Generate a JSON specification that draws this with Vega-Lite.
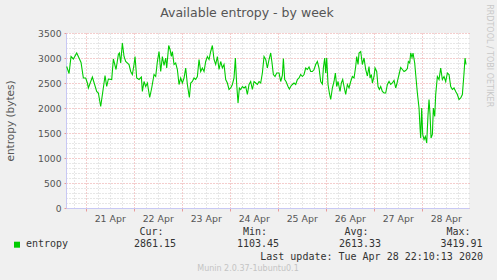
{
  "$schema": "https://vega.github.io/schema/vega-lite/v6.json",
  "width": 403,
  "height": 175,
  "autosize": {"type": "none"},
  "padding": {"left": 66, "top": 33, "right": 28, "bottom": 72},
  "background": "#f0f0f0",
  "config": {"view": {"fill": "#ffffff", "stroke": null}, "font": "DejaVu Sans"},
  "resolve": {"axis": {"x": "independent", "y": "independent"}},
  "datasets": {
    "entropy": [
      {"t":"2020-04-20T14:30:00Z","v":2830},{"t":"2020-04-20T15:40:00Z","v":2690},{"t":"2020-04-20T16:40:00Z","v":3030},{"t":"2020-04-20T17:50:00Z","v":2980},{"t":"2020-04-20T19:30:00Z","v":3100},{"t":"2020-04-20T20:40:00Z","v":3000},{"t":"2020-04-20T21:40:00Z","v":2910},{"t":"2020-04-20T22:50:00Z","v":2600},
      {"t":"2020-04-21T00:00:00Z","v":2600},{"t":"2020-04-21T00:50:00Z","v":2500},{"t":"2020-04-21T01:20:00Z","v":2400},{"t":"2020-04-21T03:20:00Z","v":2620},{"t":"2020-04-21T05:30:00Z","v":2330},{"t":"2020-04-21T06:20:00Z","v":2300},{"t":"2020-04-21T07:30:00Z","v":2030},{"t":"2020-04-21T09:10:00Z","v":2500},{"t":"2020-04-21T09:40:00Z","v":2650},{"t":"2020-04-21T10:30:00Z","v":2430},{"t":"2020-04-21T11:20:00Z","v":2580},{"t":"2020-04-21T13:00:00Z","v":2570},{"t":"2020-04-21T13:50:00Z","v":2980},{"t":"2020-04-21T15:10:00Z","v":2770},{"t":"2020-04-21T16:20:00Z","v":3070},{"t":"2020-04-21T16:50:00Z","v":3100},{"t":"2020-04-21T17:30:00Z","v":2900},{"t":"2020-04-21T18:20:00Z","v":3300},{"t":"2020-04-21T19:10:00Z","v":3030},{"t":"2020-04-21T20:00:00Z","v":2930},{"t":"2020-04-21T21:40:00Z","v":2870},{"t":"2020-04-21T22:30:00Z","v":2730},{"t":"2020-04-21T23:20:00Z","v":2670},
      {"t":"2020-04-22T00:10:00Z","v":2870},{"t":"2020-04-22T00:40:00Z","v":3030},{"t":"2020-04-22T01:30:00Z","v":2600},{"t":"2020-04-22T02:40:00Z","v":2570},{"t":"2020-04-22T03:50:00Z","v":2620},{"t":"2020-04-22T04:20:00Z","v":2330},{"t":"2020-04-22T05:10:00Z","v":2530},{"t":"2020-04-22T06:00:00Z","v":2430},{"t":"2020-04-22T06:50:00Z","v":2500},{"t":"2020-04-22T08:00:00Z","v":2210},{"t":"2020-04-22T09:00:00Z","v":2400},{"t":"2020-04-22T10:10:00Z","v":2670},{"t":"2020-04-22T11:00:00Z","v":2630},{"t":"2020-04-22T11:50:00Z","v":2930},{"t":"2020-04-22T12:40:00Z","v":3130},{"t":"2020-04-22T13:30:00Z","v":2730},{"t":"2020-04-22T14:20:00Z","v":3030},{"t":"2020-04-22T15:10:00Z","v":2850},{"t":"2020-04-22T16:00:00Z","v":3000},{"t":"2020-04-22T16:30:00Z","v":2800},{"t":"2020-04-22T17:30:00Z","v":3250},{"t":"2020-04-22T18:10:00Z","v":3170},{"t":"2020-04-22T18:50:00Z","v":3030},{"t":"2020-04-22T19:20:00Z","v":3130},{"t":"2020-04-22T20:10:00Z","v":2870},{"t":"2020-04-22T21:00:00Z","v":2900},{"t":"2020-04-22T21:50:00Z","v":2770},{"t":"2020-04-22T22:40:00Z","v":2470},{"t":"2020-04-22T23:30:00Z","v":2600},
      {"t":"2020-04-23T00:20:00Z","v":2500},{"t":"2020-04-23T01:10:00Z","v":2600},{"t":"2020-04-23T02:00:00Z","v":2800},{"t":"2020-04-23T02:50:00Z","v":2470},{"t":"2020-04-23T03:50:00Z","v":2210},{"t":"2020-04-23T04:30:00Z","v":2500},{"t":"2020-04-23T05:20:00Z","v":2530},{"t":"2020-04-23T06:10:00Z","v":2600},{"t":"2020-04-23T07:00:00Z","v":2570},{"t":"2020-04-23T07:50:00Z","v":2630},{"t":"2020-04-23T08:40:00Z","v":2970},{"t":"2020-04-23T09:30:00Z","v":2730},{"t":"2020-04-23T10:20:00Z","v":2800},{"t":"2020-04-23T11:10:00Z","v":2730},{"t":"2020-04-23T12:00:00Z","v":2930},{"t":"2020-04-23T12:50:00Z","v":3030},{"t":"2020-04-23T13:40:00Z","v":2970},{"t":"2020-04-23T14:30:00Z","v":3130},{"t":"2020-04-23T15:20:00Z","v":3250},{"t":"2020-04-23T16:10:00Z","v":2970},{"t":"2020-04-23T17:00:00Z","v":2870},{"t":"2020-04-23T17:50:00Z","v":3030},{"t":"2020-04-23T18:40:00Z","v":2770},{"t":"2020-04-23T19:30:00Z","v":2930},{"t":"2020-04-23T20:20:00Z","v":2800},{"t":"2020-04-23T21:10:00Z","v":2870},{"t":"2020-04-23T22:00:00Z","v":2570},{"t":"2020-04-23T22:50:00Z","v":2500},{"t":"2020-04-23T23:40:00Z","v":2370},
      {"t":"2020-04-24T00:30:00Z","v":2400},{"t":"2020-04-24T01:20:00Z","v":2470},{"t":"2020-04-24T02:10:00Z","v":2600},{"t":"2020-04-24T02:50:00Z","v":3000},{"t":"2020-04-24T03:30:00Z","v":2470},{"t":"2020-04-24T04:10:00Z","v":2100},{"t":"2020-04-24T04:50:00Z","v":2400},{"t":"2020-04-24T05:30:00Z","v":2370},{"t":"2020-04-24T06:20:00Z","v":2430},{"t":"2020-04-24T07:10:00Z","v":2400},{"t":"2020-04-24T08:00:00Z","v":2430},{"t":"2020-04-24T08:50:00Z","v":2270},{"t":"2020-04-24T09:40:00Z","v":2470},{"t":"2020-04-24T10:30:00Z","v":2530},{"t":"2020-04-24T11:20:00Z","v":2370},{"t":"2020-04-24T12:10:00Z","v":2530},{"t":"2020-04-24T13:00:00Z","v":2500},{"t":"2020-04-24T13:50:00Z","v":2470},{"t":"2020-04-24T14:40:00Z","v":2530},{"t":"2020-04-24T15:30:00Z","v":2500},{"t":"2020-04-24T16:20:00Z","v":2700},{"t":"2020-04-24T17:10:00Z","v":3030},{"t":"2020-04-24T18:00:00Z","v":2970},{"t":"2020-04-24T18:50:00Z","v":2800},{"t":"2020-04-24T19:40:00Z","v":2970},{"t":"2020-04-24T20:30:00Z","v":3100},{"t":"2020-04-24T21:10:00Z","v":2900},{"t":"2020-04-24T21:50:00Z","v":2670},{"t":"2020-04-24T22:40:00Z","v":2630},{"t":"2020-04-24T23:30:00Z","v":2700},
      {"t":"2020-04-25T00:40:00Z","v":2700},{"t":"2020-04-25T01:30:00Z","v":2530},{"t":"2020-04-25T02:20:00Z","v":2650},{"t":"2020-04-25T02:50:00Z","v":2990},{"t":"2020-04-25T03:30:00Z","v":2570},{"t":"2020-04-25T04:10:00Z","v":2530},{"t":"2020-04-25T05:10:00Z","v":2430},{"t":"2020-04-25T05:50:00Z","v":2380},{"t":"2020-04-25T06:30:00Z","v":2430},{"t":"2020-04-25T07:20:00Z","v":2470},{"t":"2020-04-25T08:10:00Z","v":2500},{"t":"2020-04-25T09:00:00Z","v":2470},{"t":"2020-04-25T09:50:00Z","v":2570},{"t":"2020-04-25T10:40:00Z","v":2600},{"t":"2020-04-25T11:30:00Z","v":2670},{"t":"2020-04-25T12:20:00Z","v":2630},{"t":"2020-04-25T13:10:00Z","v":2670},{"t":"2020-04-25T14:00:00Z","v":2800},{"t":"2020-04-25T14:50:00Z","v":2770},{"t":"2020-04-25T15:40:00Z","v":2820},{"t":"2020-04-25T16:30:00Z","v":2730},{"t":"2020-04-25T17:20:00Z","v":2730},{"t":"2020-04-25T18:10:00Z","v":2770},{"t":"2020-04-25T19:00:00Z","v":2870},{"t":"2020-04-25T19:50:00Z","v":2930},{"t":"2020-04-25T20:40:00Z","v":2800},{"t":"2020-04-25T21:30:00Z","v":2530},{"t":"2020-04-25T22:20:00Z","v":2480},{"t":"2020-04-25T22:50:00Z","v":2800},{"t":"2020-04-25T23:30:00Z","v":3000},
      {"t":"2020-04-26T00:00:00Z","v":2700},{"t":"2020-04-26T00:30:00Z","v":3000},{"t":"2020-04-26T01:10:00Z","v":2470},{"t":"2020-04-26T01:50:00Z","v":2300},{"t":"2020-04-26T02:30:00Z","v":2170},{"t":"2020-04-26T03:20:00Z","v":2400},{"t":"2020-04-26T04:10:00Z","v":2530},{"t":"2020-04-26T04:50:00Z","v":2700},{"t":"2020-04-26T05:30:00Z","v":2430},{"t":"2020-04-26T06:10:00Z","v":2530},{"t":"2020-04-26T07:10:00Z","v":2330},{"t":"2020-04-26T07:50:00Z","v":2500},{"t":"2020-04-26T08:30:00Z","v":2570},{"t":"2020-04-26T09:10:00Z","v":2430},{"t":"2020-04-26T10:00:00Z","v":2270},{"t":"2020-04-26T10:50:00Z","v":2470},{"t":"2020-04-26T11:40:00Z","v":2400},{"t":"2020-04-26T12:30:00Z","v":2530},{"t":"2020-04-26T13:20:00Z","v":2630},{"t":"2020-04-26T14:10:00Z","v":2600},{"t":"2020-04-26T15:00:00Z","v":2830},{"t":"2020-04-26T15:30:00Z","v":3030},{"t":"2020-04-26T16:10:00Z","v":2870},{"t":"2020-04-26T16:40:00Z","v":3100},{"t":"2020-04-26T17:30:00Z","v":3130},{"t":"2020-04-26T18:20:00Z","v":2870},{"t":"2020-04-26T19:10:00Z","v":3000},{"t":"2020-04-26T20:00:00Z","v":2770},{"t":"2020-04-26T20:50:00Z","v":2640},{"t":"2020-04-26T21:40:00Z","v":2830},{"t":"2020-04-26T22:10:00Z","v":2600},{"t":"2020-04-26T22:50:00Z","v":2670},{"t":"2020-04-26T23:20:00Z","v":2500},
      {"t":"2020-04-27T00:10:00Z","v":2630},{"t":"2020-04-27T00:40:00Z","v":2800},{"t":"2020-04-27T01:30:00Z","v":2730},{"t":"2020-04-27T02:10:00Z","v":2430},{"t":"2020-04-27T02:50:00Z","v":2370},{"t":"2020-04-27T03:30:00Z","v":2430},{"t":"2020-04-27T04:20:00Z","v":2330},{"t":"2020-04-27T05:10:00Z","v":2300},{"t":"2020-04-27T06:00:00Z","v":2300},{"t":"2020-04-27T06:50:00Z","v":2470},{"t":"2020-04-27T07:40:00Z","v":2530},{"t":"2020-04-27T08:30:00Z","v":2470},{"t":"2020-04-27T09:20:00Z","v":2500},{"t":"2020-04-27T10:10:00Z","v":2550},{"t":"2020-04-27T11:00:00Z","v":2400},{"t":"2020-04-27T11:30:00Z","v":2470},{"t":"2020-04-27T11:50:00Z","v":2530},{"t":"2020-04-27T12:40:00Z","v":2670},{"t":"2020-04-27T13:30:00Z","v":2810},{"t":"2020-04-27T14:20:00Z","v":2770},{"t":"2020-04-27T15:10:00Z","v":2730},{"t":"2020-04-27T16:00:00Z","v":2750},{"t":"2020-04-27T16:50:00Z","v":2790},{"t":"2020-04-27T17:20:00Z","v":2930},{"t":"2020-04-27T18:00:00Z","v":2900},{"t":"2020-04-27T18:30:00Z","v":3100},{"t":"2020-04-27T19:10:00Z","v":3010},{"t":"2020-04-27T19:40:00Z","v":3100},{"t":"2020-04-27T20:30:00Z","v":2900},{"t":"2020-04-27T21:00:00Z","v":2670},{"t":"2020-04-27T21:50:00Z","v":2300},{"t":"2020-04-27T22:40:00Z","v":2000},{"t":"2020-04-27T23:10:00Z","v":1600},{"t":"2020-04-27T23:30:00Z","v":1400},
      {"t":"2020-04-28T00:00:00Z","v":2000},{"t":"2020-04-28T00:30:00Z","v":1470},{"t":"2020-04-28T01:10:00Z","v":1370},{"t":"2020-04-28T01:50:00Z","v":1430},{"t":"2020-04-28T02:30:00Z","v":1300},{"t":"2020-04-28T03:10:00Z","v":1870},{"t":"2020-04-28T03:40:00Z","v":2170},{"t":"2020-04-28T04:10:00Z","v":1870},{"t":"2020-04-28T04:40:00Z","v":1400},{"t":"2020-04-28T05:20:00Z","v":1470},{"t":"2020-04-28T05:50:00Z","v":2000},{"t":"2020-04-28T06:30:00Z","v":1830},{"t":"2020-04-28T07:00:00Z","v":2270},{"t":"2020-04-28T07:50:00Z","v":2630},{"t":"2020-04-28T08:40:00Z","v":2570},{"t":"2020-04-28T09:30:00Z","v":2800},{"t":"2020-04-28T10:20:00Z","v":2570},{"t":"2020-04-28T11:10:00Z","v":2630},{"t":"2020-04-28T12:00:00Z","v":2530},{"t":"2020-04-28T12:50:00Z","v":2700},{"t":"2020-04-28T13:40:00Z","v":2670},{"t":"2020-04-28T14:30:00Z","v":2430},{"t":"2020-04-28T15:20:00Z","v":2370},{"t":"2020-04-28T16:10:00Z","v":2400},{"t":"2020-04-28T17:00:00Z","v":2330},{"t":"2020-04-28T17:50:00Z","v":2270},{"t":"2020-04-28T18:40:00Z","v":2170},{"t":"2020-04-28T19:30:00Z","v":2200},{"t":"2020-04-28T20:20:00Z","v":2270},{"t":"2020-04-28T21:10:00Z","v":2700},{"t":"2020-04-28T21:40:00Z","v":3000},{"t":"2020-04-28T22:10:00Z","v":2870}
    ]
  },
  "layer": [
    {
      "data": {"name": "entropy"},
      "mark": {"type": "line", "color": "#00cc00", "strokeWidth": 1.1},
      "encoding": {
        "x": {
          "field": "t", "type": "temporal",
          "scale": {"type": "utc", "domain": [{"year":2020,"month":4,"date":20,"hours":14,"minutes":9,"utc":true},{"year":2020,"month":4,"date":28,"hours":23,"minutes":39,"utc":true}]},
          "axis": {
            "title": null,
            "values": [1587405600000,1587427200000,1587448800000,1587470400000,1587492000000,1587513600000,1587535200000,1587556800000,1587578400000,1587600000000,1587621600000,1587643200000,1587664800000,1587686400000,1587708000000,1587729600000,1587751200000,1587772800000,1587794400000,1587816000000,1587837600000,1587859200000,1587880800000,1587902400000,1587924000000,1587945600000,1587967200000,1587988800000,1588010400000,1588032000000,1588053600000,1588075200000,1588096800000],
            "labelExpr": "datum.value % 86400000 == 43200000 ? utcFormat(datum.value, '%d %b') : ''",
            "labelOverlap": false, "labelFlush": false,
            "labelFont": "DejaVu Sans", "labelFontSize": 9.4, "labelColor": "#555555", "labelPadding": 3,
            "grid": true, "gridDash": [1, 2], "gridWidth": 1,
            "gridColor": {"condition": {"test": "datum.value % 86400000 == 0", "value": "#e89a9a"}, "value": "#cfcfcf"},
            "tickSize": 3,
            "tickColor": {"condition": {"test": "datum.value % 86400000 == 0", "value": "#e89a9a"}, "value": "transparent"},
            "domainColor": "#c8c8f4"
          }
        },
        "y": {
          "field": "v", "type": "quantitative",
          "scale": {"domain": [0, 3500], "nice": false},
          "axis": {
            "title": "entropy (bytes)", "titleFont": "DejaVu Sans", "titleFontSize": 10.5, "titleFontWeight": "normal", "titleColor": "#555555", "titlePadding": 22,
            "values": [0,100,200,300,400,500,600,700,800,900,1000,1100,1200,1300,1400,1500,1600,1700,1800,1900,2000,2100,2200,2300,2400,2500,2600,2700,2800,2900,3000,3100,3200,3300,3400,3500],
            "format": "d",
            "labelExpr": "datum.value % 500 == 0 ? datum.label : ''",
            "labelFont": "DejaVu Sans", "labelFontSize": 9.2, "labelColor": "#555555", "labelPadding": 3,
            "grid": true, "gridDash": [1, 2], "gridWidth": 1,
            "gridColor": {"condition": {"test": "datum.value % 500 == 0", "value": "#e89a9a"}, "value": "#cfcfcf"},
            "tickSize": 2,
            "tickColor": {"condition": {"test": "datum.value % 500 == 0", "value": "#e89a9a"}, "value": "transparent"},
            "domainColor": "#c8c8f4"
          }
        }
      }
    },
    {
      "data": {"values": [{"s": "Available entropy - by week"}]},
      "mark": {"type": "text", "font": "DejaVu Sans", "fontSize": 12.5, "color": "#555555", "align": "center", "baseline": "middle"},
      "encoding": {"text": {"field": "s"}, "x": {"datum": 1587717540000, "type": "temporal", "axis": null}, "y": {"datum": 3906, "type": "quantitative", "axis": null}}
    },
    {
      "data": {"values": [{"s": "RRDTOOL / TOBI OETIKER"}]},
      "mark": {"type": "text", "font": "DejaVu Sans", "fontSize": 8, "color": "#c8c8c8", "align": "center", "baseline": "middle", "angle": 90},
      "encoding": {"text": {"field": "s"}, "x": {"datum": 1588153140000, "type": "temporal", "axis": null}, "y": {"datum": 3046, "type": "quantitative", "axis": null}}
    },
    {
      "data": {"values": [{"s": "entropy"}]},
      "mark": {"type": "square", "filled": true, "size": 36, "color": "#00cc00", "opacity": 1},
      "encoding": {"x": {"datum": 1587303540000, "type": "temporal", "axis": null}, "y": {"datum": -734, "type": "quantitative", "axis": null}}
    },
    {
      "data": {"values": [{"s": "entropy"}]},
      "mark": {"type": "text", "font": "DejaVu Sans Mono", "fontSize": 10, "color": "#333333", "align": "left", "baseline": "middle"},
      "encoding": {"text": {"field": "s"}, "x": {"datum": 1587319740000, "type": "temporal", "axis": null}, "y": {"datum": -720, "type": "quantitative", "axis": null}}
    },
    {
      "data": {"values": [{"s": "Cur:"}]},
      "mark": {"type": "text", "font": "DejaVu Sans Mono", "fontSize": 10, "color": "#333333", "align": "center", "baseline": "middle"},
      "encoding": {"text": {"field": "s"}, "x": {"datum": 1587545640000, "type": "temporal", "axis": null}, "y": {"datum": -474, "type": "quantitative", "axis": null}}
    },
    {
      "data": {"values": [{"s": "2861.15"}]},
      "mark": {"type": "text", "font": "DejaVu Sans Mono", "fontSize": 10, "color": "#333333", "align": "center", "baseline": "middle"},
      "encoding": {"text": {"field": "s"}, "x": {"datum": 1587551940000, "type": "temporal", "axis": null}, "y": {"datum": -720, "type": "quantitative", "axis": null}}
    },
    {
      "data": {"values": [{"s": "Min:"}]},
      "mark": {"type": "text", "font": "DejaVu Sans Mono", "fontSize": 10, "color": "#333333", "align": "center", "baseline": "middle"},
      "encoding": {"text": {"field": "s"}, "x": {"datum": 1587731940000, "type": "temporal", "axis": null}, "y": {"datum": -474, "type": "quantitative", "axis": null}}
    },
    {
      "data": {"values": [{"s": "1103.45"}]},
      "mark": {"type": "text", "font": "DejaVu Sans Mono", "fontSize": 10, "color": "#333333", "align": "center", "baseline": "middle"},
      "encoding": {"text": {"field": "s"}, "x": {"datum": 1587737340000, "type": "temporal", "axis": null}, "y": {"datum": -720, "type": "quantitative", "axis": null}}
    },
    {
      "data": {"values": [{"s": "Avg:"}]},
      "mark": {"type": "text", "font": "DejaVu Sans Mono", "fontSize": 10, "color": "#333333", "align": "center", "baseline": "middle"},
      "encoding": {"text": {"field": "s"}, "x": {"datum": 1587914640000, "type": "temporal", "axis": null}, "y": {"datum": -474, "type": "quantitative", "axis": null}}
    },
    {
      "data": {"values": [{"s": "2613.33"}]},
      "mark": {"type": "text", "font": "DejaVu Sans Mono", "fontSize": 10, "color": "#333333", "align": "center", "baseline": "middle"},
      "encoding": {"text": {"field": "s"}, "x": {"datum": 1587920940000, "type": "temporal", "axis": null}, "y": {"datum": -720, "type": "quantitative", "axis": null}}
    },
    {
      "data": {"values": [{"s": "Max:"}]},
      "mark": {"type": "text", "font": "DejaVu Sans Mono", "fontSize": 10, "color": "#333333", "align": "center", "baseline": "middle"},
      "encoding": {"text": {"field": "s"}, "x": {"datum": 1588098240000, "type": "temporal", "axis": null}, "y": {"datum": -474, "type": "quantitative", "axis": null}}
    },
    {
      "data": {"values": [{"s": "3419.91"}]},
      "mark": {"type": "text", "font": "DejaVu Sans Mono", "fontSize": 10, "color": "#333333", "align": "center", "baseline": "middle"},
      "encoding": {"text": {"field": "s"}, "x": {"datum": 1588103640000, "type": "temporal", "axis": null}, "y": {"datum": -720, "type": "quantitative", "axis": null}}
    },
    {
      "data": {"values": [{"s": "Last update: Tue Apr 28 22:10:13 2020"}]},
      "mark": {"type": "text", "font": "DejaVu Sans Mono", "fontSize": 10, "color": "#333333", "align": "right", "baseline": "middle"},
      "encoding": {"text": {"field": "s"}, "x": {"datum": 1588142340000, "type": "temporal", "axis": null}, "y": {"datum": -974, "type": "quantitative", "axis": null}}
    },
    {
      "data": {"values": [{"s": "Munin 2.0.37-1ubuntu0.1"}]},
      "mark": {"type": "text", "font": "DejaVu Sans", "fontSize": 8, "color": "#c4c4c4", "align": "center", "baseline": "middle"},
      "encoding": {"text": {"field": "s"}, "x": {"datum": 1587719340000, "type": "temporal", "axis": null}, "y": {"datum": -1224, "type": "quantitative", "axis": null}}
    }
  ]
}
